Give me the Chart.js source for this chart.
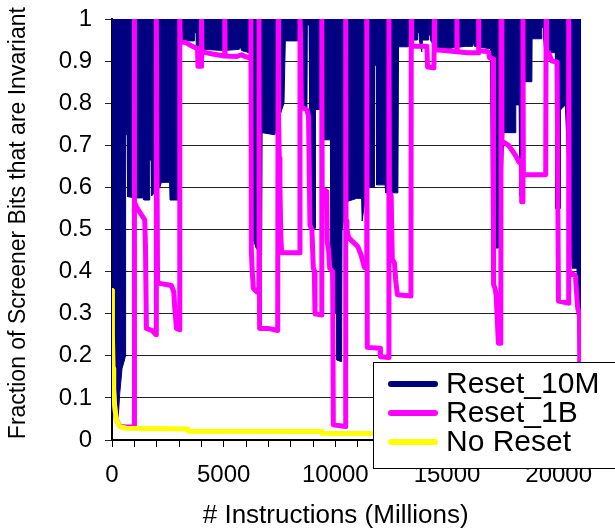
<!DOCTYPE html>
<html lang="en">
  <head>
    <meta charset="UTF-8" />
    <title>Screener Bits Invariance</title>
    <script src="https://cdn.jsdelivr.net/npm/chart.js@4"></script>
    <style>
      body { margin: 0; background: #fff; }
    </style>
  </head>
  <body>
    <canvas id="bitsChart" width="615" height="529"></canvas>

    <script>
      // Series names (legend order)
      const seriesNames = ["Reset_10M", "Reset_1B", "No Reset"];

      // Reset_10M: lower edge of the dense band (band runs up to 1.0)
      const navyX = [
        0, 40, 120, 200, 280, 345, 450, 560, 600, 610,
        680, 700, 1094, 1380, 1395, 1425, 1680, 1690, 1760, 1775,
        2140, 2214, 2580, 2600, 3060, 3090, 3680, 3690, 3760, 3775,
        4080, 5000, 5700, 5750, 5800, 6150, 6200, 6450, 6700, 6720,
        7290, 7450, 7700, 7760, 8300, 8420, 8480, 8730, 8745, 8825,
        8840, 8860, 8880, 9090, 9110, 9380, 9420, 9780, 9800, 9880,
        10050, 10060, 10280, 10300, 10500, 10960, 11180, 11200, 11400, 11740,
        11755, 11830, 11845, 12230, 12250, 12800, 12830, 13270, 13300, 13660,
        13675, 13745, 13760, 13870, 13900, 14160, 14175, 14245, 14260, 14470,
        15068, 15815, 16150, 16189, 16230, 16861, 16950, 17000, 17300, 17400,
        17540, 18057, 18080, 18230, 18260, 18380, 18430, 18800, 18810, 19230,
        19245, 19315, 19330, 19380, 19850, 19870, 20070, 20080, 20300, 20380,
        20600, 20820, 20830, 21000,
      ];
      const navyY = [
        0.35, 0.2, 0.08, 0.058, 0.055, 0.11, 0.17, 0.19, 0.2, 0.725,
        0.725, 0.578, 0.575, 0.575, 0.594, 0.57, 0.57, 0.665, 0.665, 0.58,
        0.6, 0.612, 0.612, 0.57, 0.57, 0.948, 0.948, 0.968, 0.968, 0.935,
        0.928, 0.925, 0.928, 0.934, 0.925, 0.92, 0.5, 0.456, 0.44, 0.73,
        0.725, 0.76, 0.8, 0.948, 0.948, 0.95, 0.79, 0.79, 0.986, 0.986,
        0.79, 0.785, 0.503, 0.503, 0.785, 0.785, 0.713, 0.713, 0.4, 0.31,
        0.3, 0.19, 0.186, 0.5, 0.566, 0.574, 0.574, 0.52, 0.6, 0.6,
        0.89, 0.89, 0.606, 0.606, 0.587, 0.587, 0.934, 0.934, 0.95, 0.95,
        0.968, 0.968, 0.95, 0.922, 0.95, 0.95, 0.962, 0.962, 0.95, 0.93,
        0.93, 0.935, 0.935, 0.945, 0.935, 0.93, 0.93, 0.456, 0.456, 0.5,
        0.73, 0.73, 0.796, 0.796, 0.58, 0.58, 0.851, 0.851, 0.953, 0.953,
        0.98, 0.98, 0.953, 0.92, 0.92, 0.55, 0.55, 0.784, 0.796, 0.69,
        0.408, 0.408, 0.297, 0.297,
      ];

      // Reset_1B
      const pinkX = [
        0, 10, 25, 45, 75, 120, 195, 345, 640, 990,
        1000, 1010, 1094, 1318, 1466, 1500, 1540, 1800, 1975, 1985,
        2040, 2139, 2663, 2767, 2811, 2888, 3025, 3035, 3060, 3300,
        3600, 3830, 3850, 3995, 4010, 4030, 4500, 5040, 5050, 5065,
        5600, 5800, 5950, 6200, 6220, 6240, 6280, 6330, 6480, 6560,
        6580, 6610, 7000, 7420, 7440, 7460, 7490, 7520, 7560, 7600,
        8400, 8417, 8440, 8480, 8720, 8800, 8865, 8950, 9013, 9060,
        9089, 9380, 9395, 9410, 9613, 9640, 9700, 9750, 9880, 9910,
        10450, 10465, 10480, 10520, 10600, 10800, 11000, 11150, 11300, 11395,
        11408, 11430, 12000, 12020, 12385, 12400, 12420, 12500, 12550, 12650,
        12700, 12780, 13385, 13400, 13420, 14100, 14130, 14415, 14430, 14450,
        14900, 15430, 15443, 15460, 15900, 16400, 16412, 16430, 16860, 16900,
        17060, 17085, 17150, 17200, 17300, 17410, 17420, 17460, 17758, 18057,
        18207, 18330, 18345, 18385, 18400, 18420, 19420, 19438, 19460, 19550,
        19700, 19930, 19990, 20430, 20450, 20470, 20750, 20850, 20930, 20950,
        21000,
      ];
      const pinkY = [
        0.355, 0.33, 0.25, 0.17, 0.12, 0.08, 0.048, 0.033, 0.031, 0.031,
        1, 0.565, 0.554, 0.535, 0.523, 0.456, 0.265, 0.26, 0.25, 1,
        0.375, 0.372, 0.367, 0.352, 0.313, 0.265, 0.262, 1, 0.946, 0.944,
        0.935, 0.93, 0.888, 0.888, 1, 0.922, 0.917, 0.912, 1, 0.912,
        0.911, 0.915, 0.911, 0.907, 1, 0.45, 0.4, 0.36, 0.352, 0.36,
        1, 0.265, 0.265, 0.26, 1, 0.76, 0.67, 0.6, 0.48, 0.445,
        0.445, 1, 0.96, 0.79, 0.785, 0.77, 0.51, 0.5, 0.41, 0.4,
        0.3, 0.297, 1, 0.598, 0.59, 0.471, 0.45, 0.408, 0.4, 0.036,
        0.032, 1, 0.52, 0.5, 0.48, 0.47, 0.46, 0.44, 0.41, 0.41,
        1, 0.22, 0.218, 0.198, 0.196, 1, 0.59, 0.58, 0.43, 0.42,
        0.38, 0.345, 0.342, 1, 0.935, 0.935, 0.886, 0.884, 1, 0.927,
        0.925, 0.922, 1, 0.922, 0.92, 0.92, 1, 0.925, 0.922, 0.908,
        0.905, 0.37, 0.36, 0.345, 0.23, 0.23, 1, 0.71, 0.7, 0.677,
        0.661, 0.655, 0.566, 0.566, 1, 0.63, 0.63, 1, 0.923, 0.92,
        0.9, 0.898, 0.33, 0.325, 1, 0.4, 0.39, 0.314, 0.3, 0.1,
        0.1,
      ];

      // No Reset
      const yellowX = [0, 10, 25, 45, 75, 120, 195, 345, 640, 3400, 3420, 9380, 9400, 21000];
      const yellowY = [0.355, 0.33, 0.25, 0.17, 0.12, 0.08, 0.048, 0.032, 0.028, 0.026, 0.021, 0.02, 0.016, 0.014];

      const fontFamily = '"Liberation Sans", Arial, sans-serif';

      function toPoints(xs, ys) {
        return xs.map((x, i) => ({ x: x, y: ys[i] }));
      }

      // legend box sitting over the lower right corner of the plot
      const boxLegend = {
        id: "boxLegend",
        afterDraw(chart) {
          const ctx = chart.ctx;
          const left = 373, top = 362, w = 270, h = 106;
          ctx.save();
          ctx.fillStyle = "#fff";
          ctx.fillRect(left, top, w, h);
          ctx.strokeStyle = "#000";
          ctx.lineWidth = 1;
          ctx.strokeRect(left + 0.5, top + 0.5, w, h);
          ctx.font = "30px " + fontFamily;
          ctx.textBaseline = "middle";
          chart.data.datasets.forEach((ds, i) => {
            const y = top + 22 + i * 29;
            ctx.strokeStyle = ds.borderColor;
            ctx.lineWidth = 6;
            ctx.lineCap = "round";
            ctx.beginPath();
            ctx.moveTo(left + 18, y);
            ctx.lineTo(left + 62, y);
            ctx.stroke();
            ctx.fillStyle = "#000";
            ctx.fillText(ds.label, left + 73, y + 1);
          });
          ctx.restore();
        },
      };

      const ctx = document.getElementById("bitsChart").getContext("2d");
      const chart = new Chart(ctx, {
        type: "line",
        data: {
          datasets: [
            {
              label: seriesNames[0],
              data: toPoints(navyX, navyY),
              borderColor: "#000080",
              backgroundColor: "#000080",
              borderWidth: 1,
              fill: "end",
              pointRadius: 0,
              tension: 0,
              clip: 0,
              order: 3,
            },
            {
              label: seriesNames[1],
              data: toPoints(pinkX, pinkY),
              borderColor: "#FF00FF",
              borderWidth: 5,
              borderJoinStyle: "round",
              borderCapStyle: "round",
              fill: false,
              pointRadius: 0,
              tension: 0,
              clip: 0,
              order: 2,
            },
            {
              label: seriesNames[2],
              data: toPoints(yellowX, yellowY),
              borderColor: "#FFFF00",
              borderWidth: 5,
              borderJoinStyle: "round",
              borderCapStyle: "round",
              fill: false,
              pointRadius: 0,
              tension: 0,
              clip: 0,
              order: 1,
            },
          ],
        },
        options: {
          responsive: false,
          animation: false,
          devicePixelRatio: 1,
          layout: { padding: { top: 19, right: 34, left: 0, bottom: 0 } },
          plugins: {
            legend: { display: false },
            tooltip: { enabled: false },
          },
          scales: {
            x: {
              type: "linear",
              min: 0,
              max: 21000,
              ticks: {
                stepSize: 1000,
                autoSkip: false,
                maxRotation: 0,
                padding: 14,
                color: "#000",
                font: { family: fontFamily, size: 24 },
                callback: (v) => (v % 5000 === 0 ? String(v) : ""),
              },
              grid: { drawOnChartArea: false, color: "#000", tickLength: 7 },
              border: { color: "#000", width: 2 },
              title: {
                display: true,
                text: "# Instructions (Millions)\u00a0\u00a0\u00a0",
                color: "#000",
                font: { family: fontFamily, size: 26, lineHeight: 1 },
                padding: { top: 0, bottom: 0 },
              },
              afterFit: (s) => {
                s.height = 89;
              },
            },
            y: {
              min: 0,
              max: 1,
              ticks: {
                stepSize: 0.1,
                padding: 13,
                color: "#000",
                font: { family: fontFamily, size: 24 },
                callback: (v) => String(Math.round(v * 10) / 10),
              },
              grid: { color: "#222", lineWidth: 1, tickLength: 7 },
              border: { color: "#000", width: 2 },
              title: {
                display: true,
                text: "\u00a0\u00a0Fraction of Screener Bits that are Invariant",
                color: "#000",
                font: { family: fontFamily, size: 23 },
                padding: { top: 5, bottom: 0 },
              },
              afterFit: (s) => {
                s.width = 112;
                // keep the plot top where the layout padding puts it
                s.paddingTop = 0;
                s.paddingBottom = 0;
              },
            },
          },
        },
        plugins: [boxLegend],
      });
    </script>
  </body>
</html>
